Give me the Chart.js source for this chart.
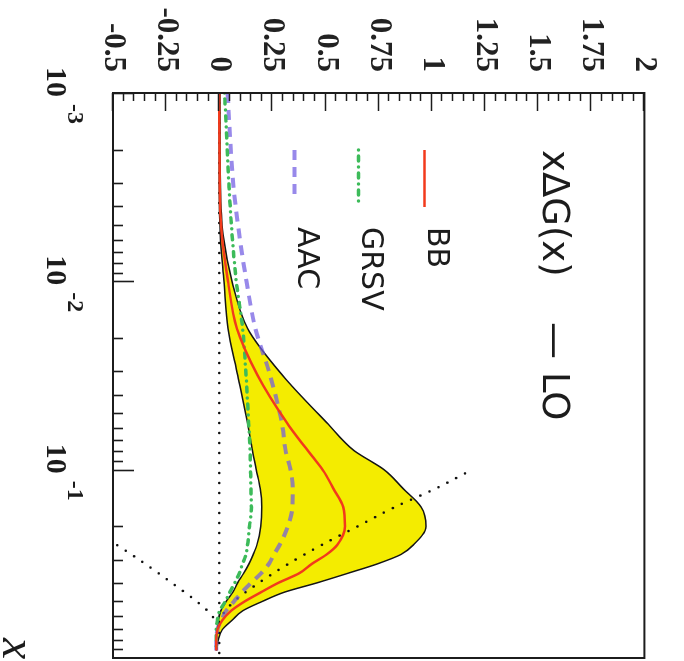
<!DOCTYPE html>
<html>
<head>
<meta charset="utf-8">
<script src="https://cdn.jsdelivr.net/npm/chart.js@4.4.1/dist/chart.umd.min.js"></script>
<style>
    html, body { margin: 0; padding: 0; background: #fff; }
    body { width: 684px; height: 661px; overflow: hidden; position: relative; }
    /* the plot is drawn upright and turned a quarter clockwise, like the scan */
    #wrap {
        position: absolute; left: 0; top: 0;
        width: 661px; height: 684px;
        transform-origin: 0 0;
        transform: translateX(684px) rotate(90deg);
    }
</style>
</head>
<body>
<div id="wrap"><canvas id="chart" width="661" height="684"></canvas></div>
<script>
// x grid shared by the curves and the band
const xValues = [0.001, 0.00316, 0.00562, 0.01, 0.0178, 0.0316, 0.0562, 0.0794, 0.1, 0.126, 0.158, 0.2,
    0.251, 0.282, 0.316, 0.355, 0.398, 0.447, 0.501, 0.562, 0.631, 0.708, 0.794, 0.912];

// xΔG(x) curves
const bbValues = [0.0, 0.002, 0.012, 0.041, 0.083, 0.18, 0.317, 0.417, 0.486, 0.537, 0.583, 0.592,
    0.555, 0.505, 0.436, 0.376, 0.28, 0.197, 0.119, 0.055, 0.014, -0.009, -0.014, -0.014];
const grsvValues = [0.025, 0.046, 0.06, 0.08, 0.11, 0.126, 0.138, 0.145, 0.147, 0.149, 0.151, 0.142,
    0.133, 0.126, 0.11, 0.094, 0.073, 0.05, 0.028, 0.002, -0.009, -0.014, -0.014, -0.014];
const aacValues = [0.039, 0.067, 0.094, 0.128, 0.17, 0.239, 0.294, 0.312, 0.335, 0.346, 0.344, 0.323,
    0.284, 0.257, 0.234, 0.197, 0.151, 0.106, 0.069, 0.032, 0.009, -0.009, -0.014, -0.014];

// BB error band
const bandUpper = [0.003, 0.006, 0.018, 0.06, 0.133, 0.298, 0.505, 0.635, 0.775, 0.865, 0.95, 0.972,
    0.913, 0.855, 0.745, 0.605, 0.463, 0.307, 0.202, 0.11, 0.06, 0.014, -0.004, -0.012];
const bandLower = [0.0, 0.0, 0.004, 0.022, 0.041, 0.087, 0.133, 0.156, 0.174, 0.193, 0.2, 0.195,
    0.177, 0.16, 0.14, 0.115, 0.087, 0.064, 0.032, 0.007, -0.005, -0.009, -0.012, -0.014];

// dotted bounds
const boundUpperX = [0.1047, 0.126, 0.158, 0.2, 0.251, 0.316, 0.398, 0.501, 0.631, 0.661];
const boundUpperY = [1.156, 1.018, 0.826, 0.651, 0.482, 0.326, 0.188, 0.069, 0.0, -0.005];
const boundLowerX = [0.236, 0.251, 0.316, 0.398, 0.501, 0.562, 0.631, 0.661];
const boundLowerY = [-0.52, -0.482, -0.349, -0.225, -0.106, -0.055, -0.018, -0.005];
const zeroX = [0.001, 1];
const zeroY = [0, 0];

// axes
const xTicks = [0.001, 0.01, 0.1];
const xTickExponents = ['-3', '-2', '-1'];
const yTicks = [-0.5, -0.25, 0, 0.25, 0.5, 0.75, 1, 1.25, 1.5, 1.75, 2];
const yTickLabels = ['-0.5', '-0.25', '0', '0.25', '0.5', '0.75', '1', '1.25', '1.5', '1.75', '2'];
const legendLabels = ['BB', 'GRSV', 'AAC'];

const SERIF = '"Liberation Serif", "Times New Roman", serif';
const SANS = '"DejaVu Sans", Arial, sans-serif';
const INK = '#1c1c1c';

function points(xs, ys) {
    return xs.map((x, i) => ({ x: x, y: ys[i] }));
}

/**
 * Frame plus inward tick marks
 */
const frameTicks = {
    id: 'frameTicks',
    afterDatasetsDraw(chart) {
        const { ctx, chartArea: a, scales } = chart;
        const xs = scales.x;
        const ys = scales.y;
        ctx.save();
        ctx.strokeStyle = INK;
        ctx.lineWidth = 1.6;
        ctx.beginPath();
        // log axis: decades long, 2..9 short
        for (let e = -3; e < 0; e++) {
            for (let m = 1; m < 10; m++) {
                const px = Math.round(xs.getPixelForValue(m * Math.pow(10, e))) + 0.5;
                ctx.moveTo(px, a.bottom);
                ctx.lineTo(px, a.bottom - (m === 1 ? 21 : 10));
            }
        }
        // value axis: every 0.05, long every 0.25
        for (let i = 0; i <= 50; i++) {
            const py = Math.round(ys.getPixelForValue(ys.min + i * 0.05)) + 0.5;
            ctx.moveTo(a.left, py);
            ctx.lineTo(a.left + (i % 5 === 0 ? 18 : 8), py);
        }
        ctx.stroke();
        ctx.lineWidth = 2;
        ctx.strokeRect(a.left, a.top, a.right - a.left, a.bottom - a.top);
        ctx.restore();
    }
};

/**
 * Decade labels, axis name, title and the in-plot legend
 */
const annotations = {
    id: 'annotations',
    afterDraw(chart) {
        const { ctx, chartArea: a, scales } = chart;
        ctx.save();
        ctx.fillStyle = INK;

        // 10^-n labels under the log axis
        xTicks.forEach((v, i) => {
            const px = scales.x.getPixelForValue(v);
            ctx.font = 'bold 30px ' + SERIF;
            ctx.textAlign = 'right';
            ctx.textBaseline = 'alphabetic';
            ctx.fillText('10', px + 4, a.bottom + 66);
            ctx.font = 'bold 24px ' + SERIF;
            ctx.textAlign = 'left';
            ctx.fillText(xTickExponents[i], px + 11, a.bottom + 45);
        });

        // axis name
        ctx.font = 'italic 48px ' + SERIF;
        ctx.textAlign = 'left';
        ctx.fillText('x', a.right - 20, a.bottom + 110);

        // title
        ctx.font = '37px ' + SANS;
        ctx.textBaseline = 'middle';
        ctx.fillText('xΔG(x)', a.left + 57, a.top + 92);
        ctx.fillText('\u2014', a.left + 229, a.top + 92);
        ctx.fillText('LO', a.left + 279, a.top + 92);

        // legend
        const rows = [209, 275, 339];
        legendLabels.forEach((label, i) => {
            const ds = chart.data.datasets[i];
            const ty = a.top + rows[i];
            ctx.save();
            ctx.strokeStyle = ds.borderColor;
            ctx.lineWidth = ds.borderWidth;
            ctx.lineCap = ds.borderCapStyle || 'butt';
            ctx.setLineDash(ds.borderDash || []);
            ctx.beginPath();
            ctx.moveTo(a.left + 57, ty + 11);
            ctx.lineTo(a.left + (i === 2 ? 108 : 114), ty + 11);
            ctx.stroke();
            ctx.restore();
            ctx.font = '30px ' + SANS;
            ctx.textAlign = 'left';
            ctx.textBaseline = 'middle';
            ctx.fillText(label, a.left + 134, ty);
        });
        ctx.restore();
    }
};

const dotted = {
    borderColor: '#111',
    borderWidth: 2.6,
    borderDash: [0, 10],
    borderCapStyle: 'round',
    pointRadius: 0,
    fill: false
};

const ctx = document.getElementById('chart').getContext('2d');

new Chart(ctx, {
    type: 'line',
    data: {
        datasets: [
            {
                label: legendLabels[0],
                data: points(xValues, bbValues),
                borderColor: '#f23a1c',
                borderWidth: 2.5,
                pointRadius: 0,
                cubicInterpolationMode: 'monotone'
            },
            {
                label: legendLabels[1],
                data: points(xValues, grsvValues),
                borderColor: '#3dbb5a',
                borderWidth: 3.5,
                borderDash: [0, 6, 5, 6],
                borderCapStyle: 'round',
                pointRadius: 0,
                cubicInterpolationMode: 'monotone'
            },
            {
                label: legendLabels[2],
                data: points(xValues, aacValues),
                borderColor: 'rgba(112, 92, 226, 0.72)',
                borderWidth: 4,
                borderDash: [10, 7],
                pointRadius: 0,
                cubicInterpolationMode: 'monotone'
            },
            Object.assign({ label: 'bound+', data: points(boundUpperX, boundUpperY), cubicInterpolationMode: 'monotone' }, dotted),
            Object.assign({ label: 'bound-', data: points(boundLowerX, boundLowerY), cubicInterpolationMode: 'monotone' }, dotted),
            Object.assign({ label: 'zero', data: points(zeroX, zeroY) }, dotted),
            {
                label: 'band+',
                data: points(xValues, bandUpper),
                borderColor: '#151515',
                borderWidth: 1.5,
                backgroundColor: '#f4ec00',
                fill: '+1',
                pointRadius: 0,
                cubicInterpolationMode: 'monotone'
            },
            {
                label: 'band-',
                data: points(xValues, bandLower),
                borderColor: '#151515',
                borderWidth: 1.5,
                pointRadius: 0,
                fill: false,
                cubicInterpolationMode: 'monotone'
            }
        ]
    },
    options: {
        responsive: false,
        animation: false,
        layout: { padding: { top: 25, right: 3, left: 0, bottom: 0 } },
        plugins: {
            legend: { display: false },
            tooltip: { enabled: false },
            filler: { drawTime: 'beforeDatasetsDraw' }
        },
        scales: {
            x: {
                type: 'logarithmic',
                min: 0.001,
                max: 1,
                grid: { display: false, drawTicks: false },
                border: { display: false },
                ticks: { display: false },
                afterFit: s => { s.height = 113; }
            },
            y: {
                type: 'linear',
                min: -0.5,
                max: 2,
                grid: { display: false, drawTicks: false },
                border: { display: false },
                afterBuildTicks: s => { s.ticks = yTicks.map(v => ({ value: v })); },
                afterFit: s => { s.width = 93; },
                ticks: {
                    autoSkip: false,
                    padding: 21,
                    color: '#222',
                    font: { family: SERIF, size: 31, weight: 'bold' },
                    callback: (value, index) => yTickLabels[index]
                }
            }
        }
    },
    plugins: [frameTicks, annotations]
});
</script>
</body>
</html>
